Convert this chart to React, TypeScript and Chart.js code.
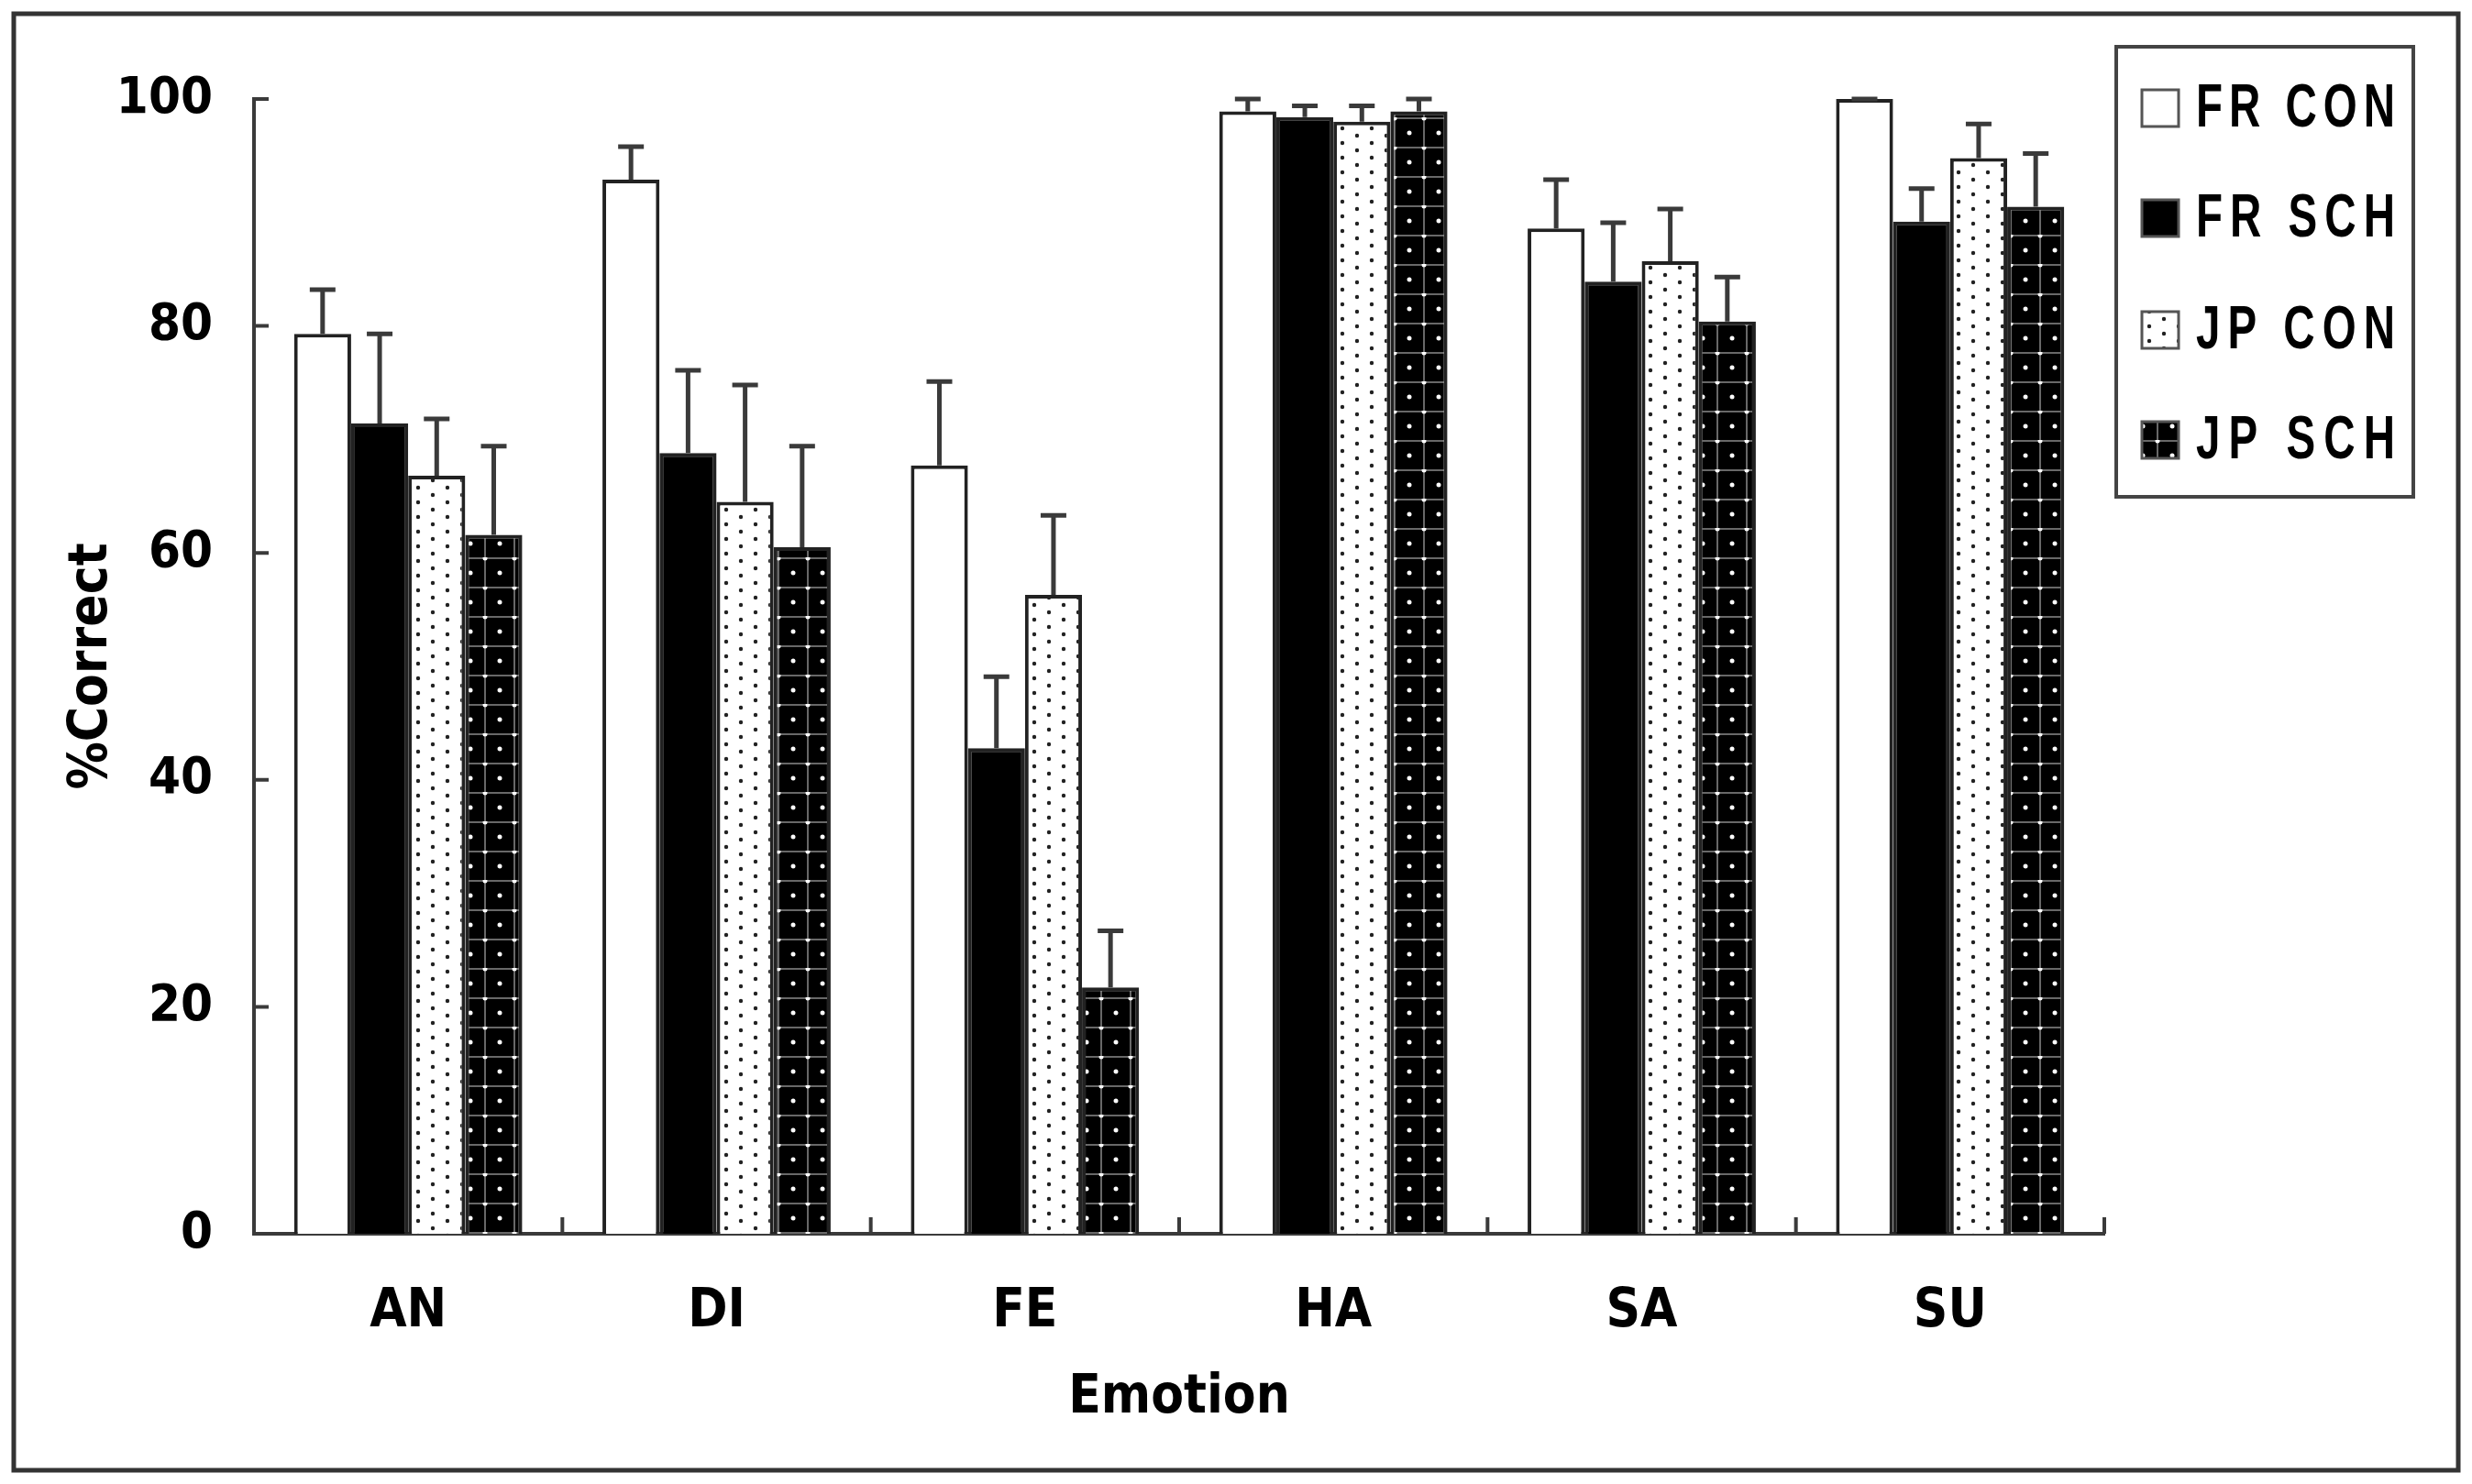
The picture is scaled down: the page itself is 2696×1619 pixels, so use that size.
import React, { useEffect, useRef } from "react";
import { Chart, registerables } from "chart.js";

Chart.register(...registerables);

const categories = ["AN", "DI", "FE", "HA", "SA", "SU"];
const seriesLabels = ["FR CON", "FR SCH", "JP CON", "JP SCH"];
const frCon = [79.3, 92.9, 67.7, 98.9, 88.6, 100];
const frSch = [71.4, 68.8, 42.8, 98.4, 83.9, 89.2];
const jpCon = [66.8, 64.5, 56.3, 98.0, 85.7, 94.8];
const jpSch = [61.6, 60.5, 21.7, 98.9, 80.4, 90.5];
const frConErr = [3.9, 2.9, 7.4, 1.1, 4.3, 0];
const frSchErr = [7.9, 7.3, 6.3, 1.0, 5.2, 2.9];
const jpConErr = [5.0, 10.3, 7.0, 1.4, 4.6, 3.0];
const jpSchErr = [7.8, 8.9, 5.0, 1.1, 3.9, 4.7];
const yTicks = [0, 20, 40, 60, 80, 100];

const W = 2696;
const H = 1619;
const FONT = "'DejaVu Sans Condensed', 'Liberation Sans', sans-serif";
const LEGEND_FONT = "'Liberation Sans', 'DejaVu Sans', sans-serif";
const LINE = "#3a3a3a";

function dotPattern(): CanvasPattern | string {
  const c = document.createElement("canvas");
  c.width = 32;
  c.height = 16;
  const g = c.getContext("2d");
  if (!g) return "#fff";
  g.fillStyle = "#fff";
  g.fillRect(0, 0, 32, 16);
  g.fillStyle = "#222";
  g.beginPath();
  g.arc(8, 4, 2.2, 0, Math.PI * 2);
  g.arc(24, 12, 2.2, 0, Math.PI * 2);
  g.fill();
  return g.createPattern(c, "repeat") || "#fff";
}

function gridPattern(): CanvasPattern | string {
  const c = document.createElement("canvas");
  c.width = 32;
  c.height = 32;
  const g = c.getContext("2d");
  if (!g) return "#000";
  g.fillStyle = "#000";
  g.fillRect(0, 0, 32, 32);
  g.strokeStyle = "#8a8a8a";
  g.lineWidth = 1.5;
  g.beginPath();
  g.moveTo(0, 1);
  g.lineTo(32, 1);
  g.moveTo(17, 0);
  g.lineTo(17, 32);
  g.stroke();
  g.fillStyle = "#fff";
  g.beginPath();
  g.arc(17, 1, 2.5, 0, Math.PI * 2);
  g.fill();
  g.beginPath();
  g.arc(1, 17, 2.5, 0, Math.PI * 2);
  g.fill();
  g.beginPath();
  g.arc(33, 17, 2.5, 0, Math.PI * 2);
  g.fill();
  return g.createPattern(c, "repeat") || "#000";
}

export default function App() {
  const ref = useRef<HTMLCanvasElement | null>(null);

  useEffect(() => {
    document.body.style.margin = "0";
    const canvas = ref.current;
    if (!canvas) return;
    const fills = ["#ffffff", "#000000", dotPattern(), gridPattern()];
    const values = [frCon, frSch, jpCon, jpSch];
    const errs = [frConErr, frSchErr, jpConErr, jpSchErr];

    const decor = {
      id: "decor",
      afterDraw(chart: any) {
        const ctx = chart.ctx as CanvasRenderingContext2D;
        const xs = chart.scales.x;
        const ys = chart.scales.y;
        ctx.save();
        // outer frame
        ctx.strokeStyle = "#333";
        ctx.lineWidth = 5;
        ctx.strokeRect(15, 15, W - 30, H - 30);
        // inward y ticks
        ctx.strokeStyle = LINE;
        ctx.lineWidth = 4;
        ctx.beginPath();
        for (const t of yTicks) {
          const y = ys.getPixelForValue(t);
          ctx.moveTo(xs.left, y);
          ctx.lineTo(xs.left + 16, y);
        }
        // inward x ticks at category boundaries
        const n = categories.length;
        const base = ys.getPixelForValue(0);
        for (let i = 0; i <= n; i++) {
          const x = xs.left + (i * (xs.right - xs.left)) / n;
          ctx.moveTo(x, base);
          ctx.lineTo(x, base - 18);
        }
        ctx.stroke();

        // legend
        const lx = 2308, ly = 51, lw = 324, lh = 491;
        ctx.fillStyle = "#fff";
        ctx.fillRect(lx, ly, lw, lh);
        ctx.strokeStyle = "#444";
        ctx.lineWidth = 4;
        ctx.strokeRect(lx, ly, lw, lh);
        const rows = [118, 238, 360, 480];
        chart.data.datasets.forEach((ds: any, i: number) => {
          const cy = rows[i];
          ctx.fillStyle = ds.backgroundColor;
          ctx.fillRect(2336, cy - 20, 40, 40);
          ctx.strokeStyle = "#555";
          ctx.lineWidth = 3;
          ctx.strokeRect(2336, cy - 20, 40, 40);
          ctx.fillStyle = "#000";
          ctx.font = `bold 66px ${LEGEND_FONT}`;
          ctx.textBaseline = "middle";
          ctx.textAlign = "left";
          const target = 217;
          const label = ds.label as string;
          (ctx as any).letterSpacing = "0px";
          const m = ctx.measureText(label).width;
          let sx = 0.72;
          let sp = (target / sx - m) / Math.max(1, label.length - 1);
          if (sp < 0) {
            sp = 0;
            sx = target / m;
          }
          (ctx as any).letterSpacing = `${sp}px`;
          ctx.save();
          ctx.translate(2395, cy + 2);
          ctx.scale(sx, 1);
          ctx.fillText(label, 0, 0);
          ctx.restore();
          (ctx as any).letterSpacing = "0px";
        });
        ctx.restore();
      },
    };

    const errorBars = {
      id: "errorBars",
      afterDatasetsDraw(chart: any) {
        const ctx = chart.ctx as CanvasRenderingContext2D;
        const ys = chart.scales.y;
        ctx.save();
        ctx.strokeStyle = LINE;
        ctx.lineWidth = 5;
        chart.data.datasets.forEach((ds: any, di: number) => {
          const meta = chart.getDatasetMeta(di);
          meta.data.forEach((bar: any, i: number) => {
            const v = ds.data[i];
            const e = errs[di][i];
            const y0 = ys.getPixelForValue(v);
            const y1 = ys.getPixelForValue(v + e);
            ctx.beginPath();
            ctx.moveTo(bar.x, y0);
            ctx.lineTo(bar.x, y1);
            ctx.moveTo(bar.x - 14, y1);
            ctx.lineTo(bar.x + 14, y1);
            ctx.stroke();
          });
        });
        ctx.restore();
      },
    };

    const chart = new Chart(canvas, {
      type: "bar",
      data: {
        labels: categories,
        datasets: seriesLabels.map((label, i) => ({
          label,
          data: values[i],
          backgroundColor: fills[i] as any,
          borderColor: "#222",
          borderWidth: 4,
          borderSkipped: "start" as const,
          categoryPercentage: 0.74,
          barPercentage: 1.0,
        })),
      },
      options: {
        animation: false,
        responsive: false,
        devicePixelRatio: 1,
        layout: { padding: { left: 30, right: W - 2295, top: 108, bottom: 20 } },
        plugins: {
          legend: { display: false },
          tooltip: { enabled: false },
        },
        scales: {
          x: {
            type: "category",
            z: 1,
            grid: { display: false, drawTicks: false },
            border: { display: true, color: LINE, width: 4 },
            ticks: {
              color: "#000",
              padding: 57,
              font: { family: FONT, size: 58, weight: "bold", lineHeight: 1 },
            },
            title: {
              display: true,
              text: "Emotion",
              color: "#000",
              font: { family: FONT, size: 58, weight: "bold", lineHeight: 1 },
              padding: { top: 0, bottom: 44 },
            },
            afterFit: (scale: any) => {
              scale.height = 253;
            },
          },
          y: {
            min: 0,
            max: 100,
            grid: { display: false, drawTicks: false },
            border: { display: true, color: LINE, width: 4 },
            ticks: {
              stepSize: 20,
              color: "#000",
              padding: 45,
              font: { family: FONT, size: 56, weight: "bold", lineHeight: 1 },
            },
            title: {
              display: true,
              text: "%Correct",
              color: "#000",
              font: { family: FONT, size: 58, weight: "bold", lineHeight: 1 },
              padding: { top: 42, bottom: 0 },
            },
            afterFit: (scale: any) => {
              scale.width = 277 - 30;
            },
          },
        },
      },
      plugins: [errorBars, decor],
    });
    return () => chart.destroy();
  }, []);

  return (
    <div style={{ position: "absolute", left: 0, top: 0, width: W, height: H, background: "#fff" }}>
      <canvas ref={ref} width={W} height={H} style={{ display: "block", width: W, height: H }} />
    </div>
  );
}
